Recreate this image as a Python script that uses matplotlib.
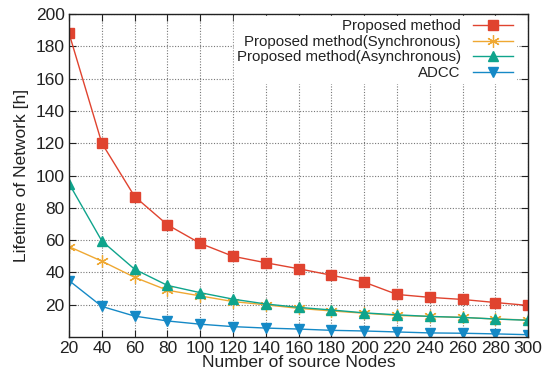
import numpy as np
import matplotlib.pyplot as plt

plt.rcParams['font.family'] = ['Liberation Sans', 'DejaVu Sans']

nodes = [20, 40, 60, 80, 100, 120, 140, 160, 180, 200, 220, 240, 260, 280, 300]
proposed = [188, 120, 87, 69.5, 58, 50, 46, 42.3, 38.3, 34, 26.4, 24.6, 23.3, 21.4, 19.6]
proposed_sync = [56, 47, 37, 29, 25.5, 22, 20, 17.8, 16.2, 14.8, 13.4, 12.8, 12.2, 11.2, 10.6]
proposed_async = [95, 59.5, 42, 32, 27.5, 23.5, 20.5, 18.4, 16.8, 15, 13.8, 12.8, 12.2, 11.2, 10.4]
adcc = [35, 19, 13, 10, 8, 6.5, 5.6, 5, 4.2, 3.8, 3.2, 2.6, 2.4, 2, 1.5]

fig = plt.figure(figsize=(5.5, 3.75), dpi=100)
ax = fig.add_axes([0.1255, 0.101, 0.835, 0.862])

ax.plot(nodes, proposed, color='#E0432F', marker='s', markersize=7.5, linewidth=1.0,
        label='Proposed method')
ax.plot(nodes, proposed_sync, color='#EFA832', marker=(6, 2, 0), markersize=9,
        markeredgewidth=0.9, linewidth=1.0, label='Proposed method(Synchronous)')
ax.plot(nodes, proposed_async, color='#0FA48C', marker='^', markersize=6.5,
        linewidth=1.0, label='Proposed method(Asynchronous)')
ax.plot(nodes, adcc, color='#1589C6', marker='v', markersize=6.5, linewidth=1.0,
        label='ADCC')

ax.set_xlim(20, 300)
ax.set_ylim(0, 200)
ax.set_xticks(np.arange(20, 301, 20))
ax.set_yticks(np.arange(20, 201, 20))
ax.tick_params(direction='in', top=True, right=True, length=5, width=0.8,
               labelsize=12.5, colors='#222222', pad=3)
ax.grid(True, linestyle=(0, (1, 1.5)), color='#777777', linewidth=0.8)
for s in ax.spines.values():
    s.set_linewidth(1.0)
    s.set_color('#222222')

ax.set_xlabel('Number of source Nodes', fontsize=12.5, color='#222222', labelpad=-1)
ax.set_ylabel('Lifetime of Network [h]', fontsize=12.5, color='#222222', labelpad=5)

leg = ax.legend(loc='upper right', bbox_to_anchor=(0.974, 0.992), markerfirst=False,
                fontsize=10.8, handlelength=2.7, frameon=True, framealpha=1,
                edgecolor='white', fancybox=False, borderpad=0.2, labelspacing=0.1,
                handletextpad=0.8, borderaxespad=0)
for t in leg.get_texts():
    t.set_color('#222222')

fig.savefig('out.png', dpi=100)
